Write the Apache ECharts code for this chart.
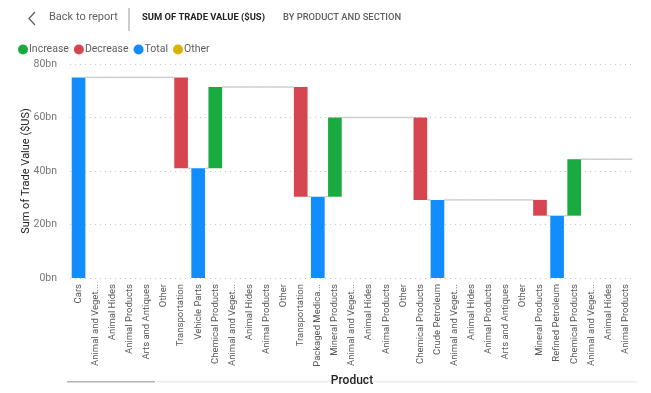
<!DOCTYPE html>
<html><head><meta charset="utf-8">
<script src="https://cdn.jsdelivr.net/npm/echarts@6/dist/echarts.min.js"></script>
<style>html,body{margin:0;padding:0;background:#fff;}#c{width:651px;height:393px;}</style>
</head><body><div id="c"></div>
<script>
const categories = [
  'Cars','Animal and Veget...','Animal Hides','Animal Products','Arts and Antiques','Other',
  'Transportation','Vehicle Parts','Chemical Products','Animal and Veget...','Animal Hides','Animal Products','Other',
  'Transportation','Packaged Medica...','Mineral Products','Animal and Veget...','Animal Hides','Animal Products','Other',
  'Chemical Products','Crude Petroleum','Animal and Veget...','Animal Hides','Animal Products','Arts and Antiques','Other',
  'Mineral Products','Refined Petroleum','Chemical Products','Animal and Veget...','Animal Hides','Animal Products'
];
// kind of each step: total / increase / decrease
const kinds = [
  'total','increase','increase','increase','increase','increase',
  'decrease','total','increase','increase','increase','increase','increase',
  'decrease','total','increase','increase','increase','increase','increase',
  'decrease','total','increase','increase','increase','increase','increase',
  'decrease','total','increase','increase','increase','increase'
];
// amounts in billions US$ (totals = running total, others = change)
const amounts = [
  75.0, 0, 0, 0, 0, 0,
  34.0, 41.0, 30.4, 0, 0, 0, 0,
  41.0, 30.4, 29.6, 0, 0, 0, 0,
  30.8, 29.2, 0, 0, 0, 0, 0,
  5.9, 23.3, 21.1, 0, 0, 0
];
const yTicks = [0, 20, 40, 60, 80];

const colors = {Increase:'#1AAB40', Decrease:'#D64550', Total:'#118DFF', Other:'#D9B300'};

// build waterfall stacks
const base = [], inc = [], dec = [], tot = [], oth = [], levels = [], nonzero = [];
let level = 0;
for (let i = 0; i < categories.length; i++) {
  const k = kinds[i], a = amounts[i];
  let b = 0, iv = 0, dv = 0, tv = 0;
  if (k === 'total') { level = a; tv = a; }
  else if (k === 'increase') { b = level; iv = a; level += a; }
  else { level -= a; b = level; dv = a; }
  base.push(b); inc.push(iv); dec.push(dv); tot.push(tv); oth.push(0);
  levels.push(level); nonzero.push(a !== 0);
}
const connectorData = levels.map((L, i) => [i, L]);

const FONT = 'Roboto, "Liberation Sans", sans-serif';
const chart = echarts.init(document.getElementById('c'));
const barW = '80%';
chart.setOption({
  animation: false,
  textStyle: {fontFamily: FONT},
  legend: {
    left: 13, top: 39, icon: 'circle', itemWidth: 10, itemHeight: 10, itemGap: 5,
    data: ['Increase','Decrease','Total','Other'],
    textStyle: {color: '#605E5C', fontSize: 10.5, fontFamily: FONT, padding: [0,0,0,-4]},
    selectedMode: false
  },
  grid: {left: 70, right: 17, top: 64, bottom: 115},
  xAxis: {
    type: 'category', data: categories,
    name: 'Product', nameLocation: 'middle', nameGap: 92,
    nameTextStyle: {color: '#252423', fontSize: 12, fontWeight: 500, fontFamily: FONT},
    axisLine: {show: false}, axisTick: {show: false},
    axisLabel: {rotate: 90, interval: 0, color: '#5a5856', fontSize: 9.5, margin: 6, fontFamily: FONT}
  },
  yAxis: {
    type: 'value', min: yTicks[0], max: yTicks[yTicks.length-1], interval: 20,
    name: 'Sum of Trade Value ($US)', nameLocation: 'middle', nameGap: 38, nameRotate: 90,
    nameMoveOverlap: false,
    nameTextStyle: {color: '#252423', fontSize: 11, fontFamily: FONT},
    axisLine: {show: false}, axisTick: {show: false},
    axisLabel: {color: '#777', fontSize: 10.5, margin: 13, formatter: v => v + 'bn', fontFamily: FONT},
    splitLine: {lineStyle: {color: '#c8c8c8', type: [1, 4], width: 1}}
  },
  series: [
    {type: 'custom', name: 'connector', z: 1, silent: true,
     encode: {x: 0, y: 1}, data: connectorData,
     renderItem: function (params, api) {
       const i = api.value(0), L = api.value(1);
       const p = api.coord([i, L]);
       const band = api.size([1, 0])[0];
       const hw = band * 0.4;
       const x1 = nonzero[i] ? p[0] + hw : p[0];
       let x2;
       if (i < categories.length - 1) {
         const q = api.coord([i + 1, L]);
         x2 = nonzero[i + 1] ? q[0] - hw : q[0];
       } else {
         x2 = p[0] + hw;
       }
       return {type: 'line', shape: {x1: x1, y1: p[1], x2: x2, y2: p[1]},
               style: {stroke: '#cfcfcf', lineWidth: 1.5}};
     }},
    {type: 'bar', name: 'base', stack: 'w', barWidth: barW, data: base, z: 2,
     itemStyle: {color: 'rgba(0,0,0,0)'}, silent: true},
    {type: 'bar', name: 'Increase', stack: 'w', barWidth: barW, data: inc, z: 3, itemStyle: {color: colors.Increase}},
    {type: 'bar', name: 'Decrease', stack: 'w', barWidth: barW, data: dec, z: 3, itemStyle: {color: colors.Decrease}},
    {type: 'bar', name: 'Total', stack: 'w', barWidth: barW, data: tot, z: 3, itemStyle: {color: colors.Total}},
    {type: 'bar', name: 'Other', stack: 'w', barWidth: barW, data: oth, z: 3, itemStyle: {color: colors.Other}}
  ],
  graphic: [
    {type: 'polyline', shape: {points: [[35, 12], [29, 18.5], [35, 25]]}, style: {stroke: '#605E5C', lineWidth: 1.3, fill: null}},
    {type: 'text', left: 49, top: 12, style: {text: 'Back to report', fill: '#605E5C', font: '11px ' + FONT}},
    {type: 'rect', shape: {x: 128.5, y: 8, width: 1, height: 23}, style: {fill: '#9a9a9a'}},
    {type: 'text', left: 142, top: 13, style: {text: 'SUM OF TRADE VALUE ($US)', fill: '#252423', font: 'bold 9.4px ' + FONT}},
    {type: 'text', left: 283, top: 13, style: {text: 'BY PRODUCT AND SECTION', fill: '#605E5C', font: '500 9.4px ' + FONT}},
    {type: 'rect', shape: {x: 67, y: 381, width: 88, height: 1.5}, style: {fill: '#b3b3b3'}},
    {type: 'rect', shape: {x: 157, y: 381, width: 480, height: 1.5}, style: {fill: '#ececec'}}
  ]
});
</script></body></html>
